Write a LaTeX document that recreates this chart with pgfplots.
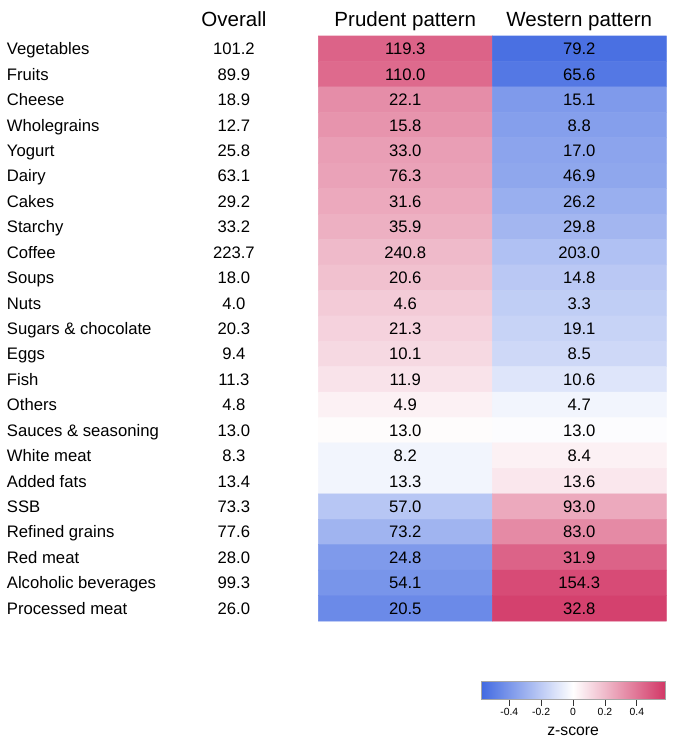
\documentclass[border=0pt]{standalone}
\usepackage{fontspec}
\setmainfont{Liberation Sans}
\usepackage{pgfplots}
\pgfplotsset{compat=1.18}

% z-scores (col 0 = prudent, col 1 = western)
\newcommand{\rowfont}{\fontsize{12.5}{14}\selectfont}

\begin{document}
\begin{tikzpicture}
\path[use as bounding box] (0,0) rectangle (504pt,554.25pt);
\begin{axis}[
  at={(238.7pt,88.5pt)}, anchor=south west,
  scale only axis, width=261pt, height=438.75pt,
  xmin=-0.5, xmax=1.5, ymin=-0.5, ymax=22.5, y dir=reverse,
  clip=false,
  axis line style={draw=none},
  xtick=\empty,
  ytick={0,...,22},
  yticklabels={Vegetables,Fruits,Cheese,Wholegrains,Yogurt,Dairy,Cakes,Starchy,Coffee,Soups,Nuts,Sugars \& chocolate,Eggs,Fish,Others,Sauces \& seasoning,White meat,Added fats,SSB,Refined grains,Red meat,Alcoholic beverages,Processed meat},
  major tick length=0pt,
  yticklabel style={anchor=west, inner sep=0pt, xshift=-233.7pt,
    text height=9pt, text depth=0pt, font=\rowfont},
  colormap={zs}{rgb255=(65,105,225) rgb255=(255,255,255) rgb255=(210,55,102)},
  point meta min=-0.578, point meta max=0.578,
  colorbar horizontal,
  colorbar style={
    at={(parent axis.south west)}, anchor=north west,
    xshift=122pt, yshift=-36.75pt,
    width=138.2pt, height=13.7pt,
    xtick={-0.4,-0.2,0,0.2,0.4},
    xticklabels={-0.4,-0.2,0,0.2,0.4},
    xtick pos=left,
    xtick align=outside,
    major tick length=4.5pt,
    tick style={draw=black!80, line width=0.6pt},
    axis line style={draw=gray!70},
    xticklabel style={font=\fontsize{7.8}{9}\selectfont, anchor=base, yshift=-7.5pt},
    xlabel={z-score},
    xlabel style={font=\fontsize{11.8}{13}\selectfont, at={(axis description cs:0.5,0)}, anchor=base, yshift=-26.75pt},
  },
]
\addplot[matrix plot*, mesh/cols=2, point meta=explicit] coordinates {
(0,0) [0.45]  (1,0) [-0.55]
(0,1) [0.43]  (1,1) [-0.52]
(0,2) [0.33]  (1,2) [-0.39]
(0,3) [0.31]  (1,3) [-0.37]
(0,4) [0.28]  (1,4) [-0.35]
(0,5) [0.27]  (1,5) [-0.34]
(0,6) [0.25]  (1,6) [-0.31]
(0,7) [0.23]  (1,7) [-0.28]
(0,8) [0.20]  (1,8) [-0.24]
(0,9) [0.18]  (1,9) [-0.21]
(0,10) [0.15] (1,10) [-0.19]
(0,11) [0.13] (1,11) [-0.17]
(0,12) [0.11] (1,12) [-0.15]
(0,13) [0.08] (1,13) [-0.10]
(0,14) [0.04] (1,14) [-0.04]
(0,15) [0.01] (1,15) [-0.01]
(0,16) [-0.04] (1,16) [0.04]
(0,17) [-0.04] (1,17) [0.07]
(0,18) [-0.22] (1,18) [0.25]
(0,19) [-0.29] (1,19) [0.34]
(0,20) [-0.39] (1,20) [0.45]
(0,21) [-0.41] (1,21) [0.52]
(0,22) [-0.45] (1,22) [0.55]
};
% printed values: overall (x=-0.985), prudent (x=0), western (x=1)
\addplot[only marks, mark=none, point meta=explicit symbolic,
  nodes near coords, nodes near coords align=center,
  every node near coord/.append style={anchor=center, text=black,
    text height=9pt, text depth=0pt, font=\rowfont}] coordinates {
(-0.985,0) [101.2] (0,0) [119.3] (1,0) [79.2]
(-0.985,1) [89.9]  (0,1) [110.0] (1,1) [65.6]
(-0.985,2) [18.9]  (0,2) [22.1]  (1,2) [15.1]
(-0.985,3) [12.7]  (0,3) [15.8]  (1,3) [8.8]
(-0.985,4) [25.8]  (0,4) [33.0]  (1,4) [17.0]
(-0.985,5) [63.1]  (0,5) [76.3]  (1,5) [46.9]
(-0.985,6) [29.2]  (0,6) [31.6]  (1,6) [26.2]
(-0.985,7) [33.2]  (0,7) [35.9]  (1,7) [29.8]
(-0.985,8) [223.7] (0,8) [240.8] (1,8) [203.0]
(-0.985,9) [18.0]  (0,9) [20.6]  (1,9) [14.8]
(-0.985,10) [4.0]  (0,10) [4.6]  (1,10) [3.3]
(-0.985,11) [20.3] (0,11) [21.3] (1,11) [19.1]
(-0.985,12) [9.4]  (0,12) [10.1] (1,12) [8.5]
(-0.985,13) [11.3] (0,13) [11.9] (1,13) [10.6]
(-0.985,14) [4.8]  (0,14) [4.9]  (1,14) [4.7]
(-0.985,15) [13.0] (0,15) [13.0] (1,15) [13.0]
(-0.985,16) [8.3]  (0,16) [8.2]  (1,16) [8.4]
(-0.985,17) [13.4] (0,17) [13.3] (1,17) [13.6]
(-0.985,18) [73.3] (0,18) [57.0] (1,18) [93.0]
(-0.985,19) [77.6] (0,19) [73.2] (1,19) [83.0]
(-0.985,20) [28.0] (0,20) [24.8] (1,20) [31.9]
(-0.985,21) [99.3] (0,21) [54.1] (1,21) [154.3]
(-0.985,22) [26.0] (0,22) [20.5] (1,22) [32.8]
};
\node[anchor=base, font=\fontsize{15.4}{17}\selectfont] at (axis cs:-0.985,-0.87) {Overall};
\node[anchor=base, font=\fontsize{15.4}{17}\selectfont] at (axis cs:0,-0.87) {Prudent pattern};
\node[anchor=base, font=\fontsize{15.4}{17}\selectfont] at (axis cs:1,-0.87) {Western pattern};
\end{axis}
\end{tikzpicture}
\end{document}
